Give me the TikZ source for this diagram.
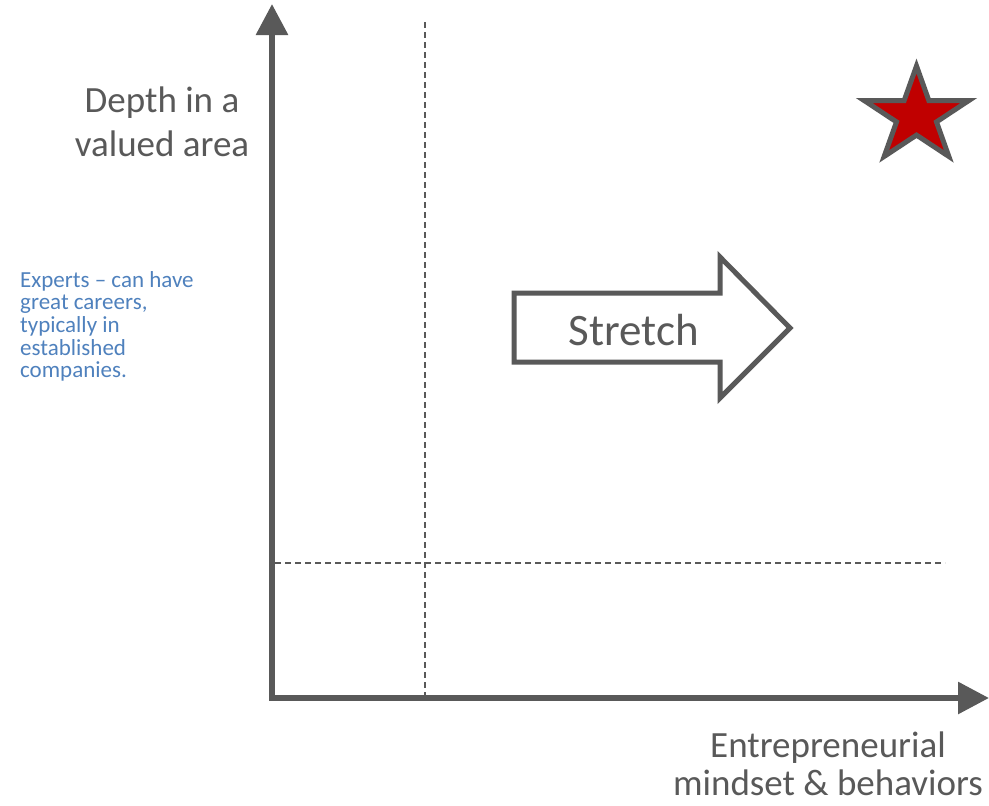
\documentclass[tikz,border=0pt]{standalone}
\usepackage{fontspec}
\setmainfont{Carlito}
\usetikzlibrary{positioning,arrows.meta}
\definecolor{axisgray}{RGB}{89,89,89}
\definecolor{noteblue}{RGB}{79,129,189}
\definecolor{starred}{RGB}{192,0,0}

\begin{document}
\begin{tikzpicture}
    [x=1pt,y=-1pt,
     ax/.style={line width=6pt,draw=axisgray,line join=miter},
     grid/.style={line width=1.5pt,draw=axisgray,dash pattern=on 6pt off 4pt},
     lbl/.style={text=axisgray,align=center,font=\fontsize{37}{44}\selectfont},
     note/.style={text=noteblue,align=left,anchor=north west,inner sep=0pt,
                  font=\fontsize{23}{22.7}\selectfont},
     outline/.style={line width=5pt,draw=axisgray,line join=miter}]
    \useasboundingbox (0,0) rectangle (989,806);
    % axes
    \coordinate (ytip) at (272,4);
    \coordinate (orig) at (272,698);
    \coordinate (xtip) at (989,698);
    \draw[ax,{Triangle[length=31pt,width=31pt]}-{Triangle[length=31pt,width=31pt]}]
        (ytip) -- (orig) -- (xtip);
    % dashed split lines
    \coordinate (vtop) at (425,22);
    \coordinate (vbot) at (425,695);
    \coordinate (hleft) at (275,563);
    \coordinate (hright) at (945,563);
    \draw[grid] (vtop) -- (vbot);
    \draw[grid] (hleft) -- (hright);
    % labels
    \node[lbl] (ylabel) at (162,122) {Depth in a\\valued area};
    \node[lbl,font=\fontsize{37}{38}\selectfont] (xlabel) at (828,764) {Entrepreneurial\\mindset \& behaviors};
    \node[note] (experts) at (20,271) {Experts -- can have\\great careers,\\typically in\\established\\companies.};
    % stretch arrow
    \draw[outline,fill=white] (514,293) -- (720,293) -- (720,257) -- (790,328)
        -- (720,398) -- (720,362) -- (514,362) -- cycle;
    \node[text=axisgray,anchor=base,font=\fontsize{45}{54}\selectfont] (stretch) at (634,345) {Stretch};
    % star
    \foreach \i in {0,...,9}{
        \pgfmathsetmacro\rr{mod(\i,2)==0 ? 1 : 0.382}
        \coordinate (s\i) at ({916.5+55*\rr*cos(90+36*\i)},{116-50*\rr*sin(90+36*\i)});
    }
    \draw[outline,fill=starred] (s0) -- (s1) -- (s2) -- (s3) -- (s4) -- (s5)
        -- (s6) -- (s7) -- (s8) -- (s9) -- cycle;
\end{tikzpicture}
\end{document}
